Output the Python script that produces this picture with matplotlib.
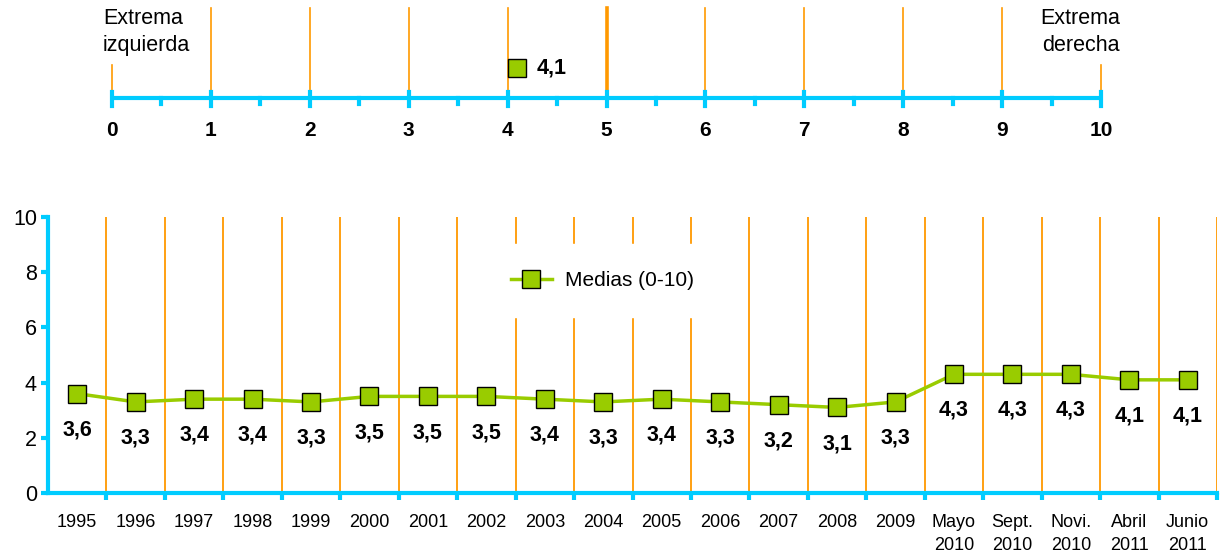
import numpy as np
import matplotlib
matplotlib.use("Agg")
import matplotlib.pyplot as plt

plt.rcParams['font.family'] = ['Liberation Sans', 'DejaVu Sans']

# data
periods = ["1995", "1996", "1997", "1998", "1999", "2000", "2001", "2002", "2003",
           "2004", "2005", "2006", "2007", "2008", "2009", "Mayo\n2010",
           "Sept.\n2010", "Novi.\n2010", "Abril\n2011", "Junio\n2011"]
medias = [3.6, 3.3, 3.4, 3.4, 3.3, 3.5, 3.5, 3.5, 3.4, 3.3, 3.4, 3.3, 3.2, 3.1,
          3.3, 4.3, 4.3, 4.3, 4.1, 4.1]
media_actual = 4.1
scale_ticks = list(range(0, 11))

BLUE = "#00CCFF"
ORANGE = "#FF9900"
GREEN = "#99CC00"

W, H = 1225, 559
fig = plt.figure(figsize=(W / 100, H / 100), dpi=100)

# ---- top scale (vertical coords in pixels from top) ----
axt = fig.add_axes([92 / W, (H - 150) / H, (1121 - 92) / W, 150 / H])
unit = (1101 - 112) / 10
axt.set_xlim(-20 / unit, 10 + 20 / unit)
axt.set_ylim(150, 0)
axt.axis("off")

for v in scale_ticks:
    if v in (0, 10):
        axt.plot([v, v], [65, 95], color=ORANGE, lw=1.2, zorder=1)
    else:
        axt.plot([v, v], [8, 95], color=ORANGE, lw=2.6 if v == 5 else 1.2, zorder=1)
axt.plot([0, 10], [98, 98], color=BLUE, lw=3, solid_capstyle="butt", zorder=2)
for v in scale_ticks:
    axt.plot([v, v], [92, 106], color=BLUE, lw=3, zorder=2)
    axt.text(v, 131, str(v), ha="center", va="center", fontsize=15, fontweight="bold")
for v in np.arange(0.5, 10, 1):
    axt.plot([v, v], [98, 104], color=BLUE, lw=3, zorder=2)

axt.plot([media_actual], [68], marker="s", ms=13, mfc=GREEN, mec="black", mew=1, zorder=3)
axt.text(media_actual + 0.19, 68, f"{media_actual:.1f}".replace(".", ","),
         ha="left", va="center", fontsize=15.5, fontweight="bold")

axt.text(-0.09, 32, "Extrema\nizquierda", ha="left", va="center", fontsize=15.5,
         linespacing=1.4)
axt.text(10.19, 32, "Extrema\nderecha", ha="right", va="center", fontsize=15.5,
         linespacing=1.4)

# ---- bottom chart ----
ax = fig.add_axes([48 / W, (H - 493) / H, (1217 - 48) / W, (493 - 217) / H])
x = np.arange(len(periods))
ax.set_xlim(-0.5, len(periods) - 0.5)
ax.set_ylim(0, 10)

for b in np.arange(0.5, len(periods), 1):
    ax.axvline(b, color=ORANGE, lw=1.3, zorder=1)

ax.plot(x, medias, color=GREEN, lw=2.5, marker="s", ms=13, mfc=GREEN, mec="black",
        mew=1, zorder=3, label="Medias (0-10)")
for xi, v in zip(x, medias):
    ax.annotate(f"{v:.1f}".replace(".", ","), (xi, v), xytext=(0, -26),
                textcoords="offset points", ha="center", va="center",
                fontsize=15.5, fontweight="bold", zorder=4)

for s in ["top", "right"]:
    ax.spines[s].set_visible(False)
for s in ["left", "bottom"]:
    ax.spines[s].set_color(BLUE)
    ax.spines[s].set_linewidth(3)
    ax.spines[s].set_zorder(5)

ax.set_yticks([0, 2, 4, 6, 8, 10])
ax.tick_params(axis="y", colors=BLUE, length=5, width=3, labelcolor="black",
               labelsize=15.5, pad=3)
ax.set_xticks(x)
ax.set_xticklabels(periods)
ax.tick_params(axis="x", which="major", length=0, labelsize=13, pad=15)
ax.set_xticks(np.arange(0.5, len(periods), 1), minor=True)
ax.tick_params(axis="x", which="minor", colors=BLUE, length=5, width=3)
for lbl in ax.get_xticklabels():
    lbl.set_linespacing(1.5)

leg = ax.legend(loc="center", bbox_to_anchor=(0.474, 0.77), frameon=True,
                fontsize=15, borderpad=1.3, handlelength=2.0, handletextpad=0.6,
                fancybox=False)
leg.get_frame().set_edgecolor("white")
leg.get_frame().set_facecolor("white")
leg.get_frame().set_alpha(1)
leg.set_zorder(6)

fig.savefig("out.png", dpi=100)
